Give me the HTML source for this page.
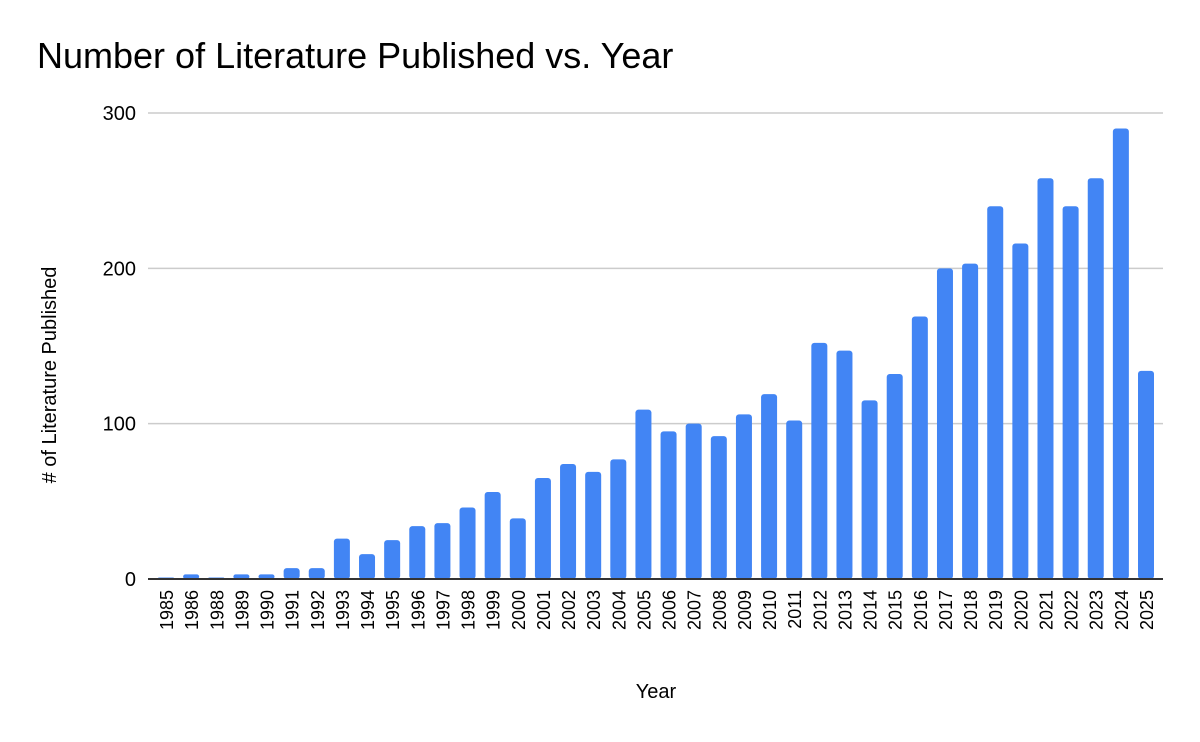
<!DOCTYPE html>
<html><head><meta charset="utf-8"><style>
body{margin:0;background:#fff;}
svg{display:block;font-family:"Liberation Sans",Arial,sans-serif;}
</style></head><body>
<svg id="chart" width="1200" height="742">
<text x="37" y="68" font-size="36" fill="#000">Number of Literature Published vs. Year</text>
<text x="656" y="698" font-size="20" text-anchor="middle" fill="#000">Year</text>
<text transform="translate(56,375) rotate(-90)" font-size="20" text-anchor="middle" fill="#000"># of Literature Published</text>
<g id="grid"></g><g id="bars"></g><g id="xlabels"></g>
</svg>
<script>
const years=["1985","1986","1988","1989","1990","1991","1992","1993","1994","1995","1996","1997","1998","1999","2000","2001","2002","2003","2004","2005","2006","2007","2008","2009","2010","2011","2012","2013","2014","2015","2016","2017","2018","2019","2020","2021","2022","2023","2024","2025"];
const counts=[1,3,1,3,3,7,7,26,16,25,34,36,46,56,39,65,74,69,77,109,95,100,92,106,119,102,152,147,115,132,169,200,203,240,216,258,240,258,290,134];
const yTicks=[0,100,200,300];
const NS="http://www.w3.org/2000/svg";
const y0=579,yScale=(579-113)/300;
const y=v=>y0-v*yScale;
const x0=166,pitch=(1146-166)/(years.length-1),bw=16;
const x=i=>x0+i*pitch;
const grid=document.getElementById('grid'),bars=document.getElementById('bars'),xl=document.getElementById('xlabels');
yTicks.forEach(t=>{
 if(t>0){const l=document.createElementNS(NS,'line');
 l.setAttribute('x1',148);l.setAttribute('x2',1163);l.setAttribute('y1',y(t));l.setAttribute('y2',y(t));
 l.setAttribute('stroke','#ccc');l.setAttribute('stroke-width','1.5');
 
 
 grid.appendChild(l);}
 const tx=document.createElementNS(NS,'text');
 tx.setAttribute('x',136);tx.setAttribute('y',y(t)+7);tx.setAttribute('text-anchor','end');tx.setAttribute('font-size','20');
 tx.textContent=t;
 
 
 grid.appendChild(tx);
});
counts.forEach((v,i)=>{
 const r=document.createElementNS(NS,'rect');
 const h=Math.max(v*yScale,1.5);
 r.setAttribute('x',x(i)-bw/2);r.setAttribute('y',y0-h);r.setAttribute('width',bw);r.setAttribute('height',h);
 r.setAttribute('rx',Math.min(3,h/2));r.setAttribute('fill','#4285f4');
 
 
 bars.appendChild(r);
 const t=document.createElementNS(NS,'text');
 t.setAttribute('transform','translate('+(x(i)+7)+',590) rotate(-90)');
 t.setAttribute('text-anchor','end');t.setAttribute('font-size','18');
 t.textContent=years[i];
 
 
 xl.appendChild(t);
});
const ax=document.createElementNS(NS,'line');
ax.setAttribute('x1',148);ax.setAttribute('x2',1163);ax.setAttribute('y1',y0);ax.setAttribute('y2',y0);
ax.setAttribute('stroke','#333');ax.setAttribute('stroke-width','2');


bars.appendChild(ax);
</script>
</body></html>
